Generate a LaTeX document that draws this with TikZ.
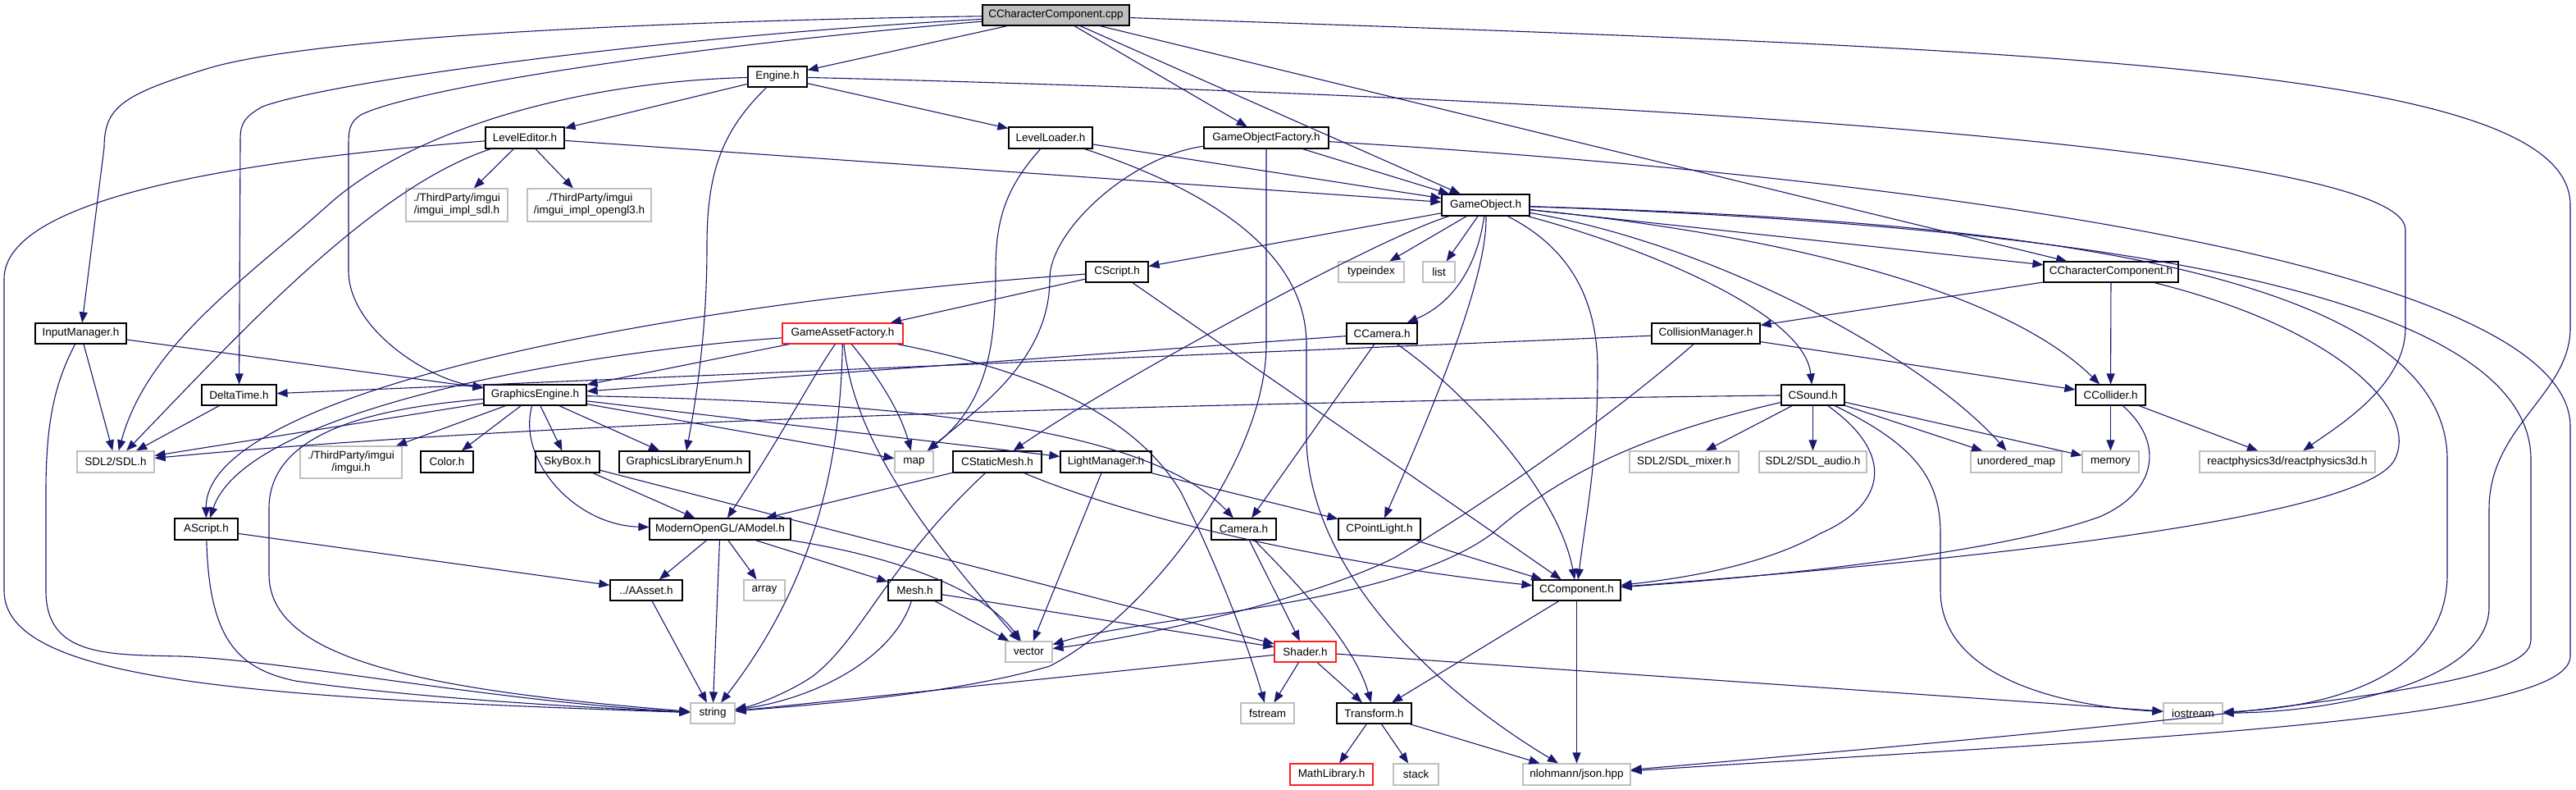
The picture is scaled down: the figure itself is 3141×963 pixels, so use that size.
\documentclass[tikz,border=0pt]{standalone}
\usepackage{fontspec}
\setmainfont{Liberation Sans}
\usetikzlibrary{arrows.meta}
\definecolor{edgec}{HTML}{191970}
\definecolor{extc}{HTML}{BFBFBF}
\definecolor{rootc}{HTML}{BFBFBF}
\definecolor{redc}{HTML}{FF2020}
\newcommand\nd[7]{\node[#6, minimum width=#4pt, minimum height=#5pt] (#1) at (#2,#3) {#7};}
\begin{document}
\begin{tikzpicture}[x=1pt,y=-1pt,
  base/.style={rectangle, inner sep=0pt, font=\fontsize{13.5}{15}\selectfont, text=black, line width=1.2pt, align=center},
  intbox/.style={base, draw=black, fill=white},
  extbox/.style={base, draw=extc, fill=white},
  redbox/.style={base, draw=redc, fill=white},
  rootbox/.style={base, draw=black, fill=rootc},
  e/.style={draw=edgec, line width=1.1pt, -{Triangle[length=13pt,width=10pt]}}]
\useasboundingbox (0,0) rectangle (3141,963);
\fill[white] (0,0) rectangle (3141,963);
% nodes
\nd{root}{1287.5}{18.5}{179}{25}{rootbox}{CCharacterComponent.cpp}
\nd{engine}{948}{93.5}{72}{25}{intbox}{Engine.h}
\nd{leveleditor}{640}{168}{96}{26}{intbox}{LevelEditor.h}
\nd{implsdl}{557}{250}{124}{40}{extbox}{./ThirdParty/imgui\\/imgui\_impl\_sdl.h}
\nd{implgl}{718.5}{250}{151}{40}{extbox}{./ThirdParty/imgui\\/imgui\_impl\_opengl3.h}
\nd{levelloader}{1281}{168}{102}{26}{intbox}{LevelLoader.h}
\nd{gof}{1544}{168}{152}{26}{intbox}{GameObjectFactory.h}
\nd{gameobject}{1811.5}{250}{107}{26}{intbox}{GameObject.h}
\nd{typeindex}{1672}{331.5}{80}{25}{extbox}{typeindex}
\nd{list}{1754.5}{331.5}{39}{25}{extbox}{list}
\nd{ccharh}{2574}{331.5}{164}{25}{intbox}{CCharacterComponent.h}
\nd{cscript}{1362}{331.5}{76}{25}{intbox}{CScript.h}
\nd{inputmgr}{98.5}{406.5}{111}{25}{intbox}{InputManager.h}
\nd{gaf}{1027.5}{406.5}{147}{25}{redbox}{GameAssetFactory.h}
\nd{ccamera}{1685}{406.5}{86}{25}{intbox}{CCamera.h}
\nd{collmgr}{2080}{406.5}{132}{25}{intbox}{CollisionManager.h}
\nd{deltatime}{291.5}{481.5}{91}{25}{intbox}{DeltaTime.h}
\nd{gfx}{652.5}{481.5}{125}{25}{intbox}{GraphicsEngine.h}
\nd{csound}{2210.5}{481.5}{77}{25}{intbox}{CSound.h}
\nd{ccollider}{2573.5}{481.5}{85}{25}{intbox}{CCollider.h}
\nd{sdl}{141}{563}{94}{26}{extbox}{SDL2/SDL.h}
\nd{imgui}{428}{563.5}{124}{39}{extbox}{./ThirdParty/imgui\\/imgui.h}
\nd{color}{545}{563}{64}{26}{intbox}{Color.h}
\nd{skybox}{692}{563}{78}{26}{intbox}{SkyBox.h}
\nd{gle}{834.5}{563}{159}{26}{intbox}{GraphicsLibraryEnum.h}
\nd{map}{1114.5}{563}{47}{26}{extbox}{map}
\nd{cstatic}{1216}{563}{108}{26}{intbox}{CStaticMesh.h}
\nd{lightmgr}{1348.5}{563}{111}{26}{intbox}{LightManager.h}
\nd{mixer}{2053.5}{563}{133}{26}{extbox}{SDL2/SDL\_mixer.h}
\nd{audio}{2210.5}{563}{131}{26}{extbox}{SDL2/SDL\_audio.h}
\nd{umap}{2458.5}{563}{111}{26}{extbox}{unordered\_map}
\nd{memory}{2573.5}{563}{69}{26}{extbox}{memory}
\nd{react}{2789}{563}{214}{26}{extbox}{reactphysics3d/reactphysics3d.h}
\nd{ascript}{251.5}{645}{77}{26}{intbox}{AScript.h}
\nd{amodel}{878}{645}{172}{26}{intbox}{ModernOpenGL/AModel.h}
\nd{camera}{1516.5}{645}{79}{26}{intbox}{Camera.h}
\nd{cpoint}{1682}{645}{100}{26}{intbox}{CPointLight.h}
\nd{aasset}{788}{719.5}{88}{25}{intbox}{../AAsset.h}
\nd{array}{932}{719.5}{50}{25}{extbox}{array}
\nd{mesh}{1115.5}{719.5}{65}{25}{intbox}{Mesh.h}
\nd{ccomp}{1922.5}{719.5}{107}{25}{intbox}{CComponent.h}
\nd{vector}{1254.5}{794.5}{57}{25}{extbox}{vector}
\nd{shader}{1591.5}{794.5}{75}{25}{redbox}{Shader.h}
\nd{string}{869}{869.5}{54}{25}{extbox}{string}
\nd{fstream}{1545.5}{869.5}{65}{25}{extbox}{fstream}
\nd{transform}{1675.5}{869.5}{91}{25}{intbox}{Transform.h}
\nd{iostream}{2674}{869.5}{72}{25}{extbox}{iostream}
\nd{mathlib}{1623.5}{944}{101}{26}{redbox}{MathLibrary.h}
\nd{stack}{1726.5}{944}{55}{26}{extbox}{stack}
\nd{json}{1922.5}{944}{131}{26}{extbox}{nlohmann/json.hpp}
% edges from root
\draw[e] (root) -- (engine);
\draw[e] (root) -- (gof);
\draw[e] (root) -- (gameobject);
\draw[e] (root) -- (ccharh);
\draw[e] (root) .. controls (900,24) and (400,40) .. (255,83) .. controls (150,115) and (127,130) .. (127,180) -- (inputmgr);
\draw[e] (root) .. controls (800,45) and (400,100) .. (320,130) .. controls (293,145) and (293,155) .. (293,175) -- (deltatime);
\draw[e] (root) .. controls (800,60) and (500,110) .. (440,140) .. controls (425,150) and (425,160) .. (425,180) -- (425,330) .. controls (425,400) and (520,462) .. (gfx);
\draw[e] (root) .. controls (2500,60) and (3134,80) .. (3134,250) -- (3134,400) .. controls (3134,480) and (3035,520) .. (3035,620) -- (3035,740) .. controls (3035,830) and (2850,868) .. (iostream);
% engine
\draw[e] (engine) -- (leveleditor);
\draw[e] (engine) .. controls (700,100) and (500,160) .. (400,250) .. controls (300,340) and (180,420) .. (sdl);
\draw[e] (engine) -- (levelloader);
\draw[e] (engine) .. controls (880,160) and (862,210) .. (862,300) .. controls (862,400) and (850,480) .. (gle);
\draw[e] (engine) .. controls (2000,120) and (2933,180) .. (2933,280) -- (2933,400) .. controls (2933,470) and (2850,520) .. (react);
% level editor
\draw[e] (leveleditor) -- (implsdl);
\draw[e] (leveleditor) -- (implgl);
\draw[e] (leveleditor) -- (gameobject);
\draw[e] (leveleditor) .. controls (450,230) and (280,420) .. (sdl);
\draw[e] (leveleditor) .. controls (300,195) and (5,240) .. (5,340) -- (5,720) .. controls (5,830) and (300,850) .. (string);
% level loader
\draw[e] (levelloader) -- (gameobject);
\draw[e] (levelloader) .. controls (1225,230) and (1214,270) .. (1214,330) .. controls (1214,420) and (1205,490) .. (map);
\draw[e] (levelloader) .. controls (1500,240) and (1593,320) .. (1593,420) -- (1593,540) .. controls (1600,700) and (1750,840) .. (json);
% game object factory
\draw[e] (gof) -- (gameobject);
\draw[e] (gof) .. controls (1380,190) and (1280,280) .. (1280,340) .. controls (1280,440) and (1190,500) .. (map);
\draw[e] (gof.south) -- (1544,420) .. controls (1544,560) and (1400,750) .. (1280,812) .. controls (1150,850) and (950,862) .. (string);
\draw[e] (gof) .. controls (2400,220) and (3134,330) .. (3134,520) -- (3134,800) .. controls (3134,880) and (2600,900) .. (json);
% game object
\draw[e] (gameobject) -- (cscript);
\draw[e] (gameobject) -- (typeindex);
\draw[e] (gameobject) -- (list);
\draw[e] (gameobject) .. controls (1680,290) and (1350,470) .. (cstatic);
\draw[e] (gameobject) .. controls (1802,320) and (1775,368) .. (ccamera);
\draw[e] (gameobject) .. controls (1814,330) and (1760,470) .. (cpoint);
\draw[e] (gameobject) .. controls (1910,300) and (1948,360) .. (1948,450) .. controls (1948,560) and (1935,620) .. (ccomp);
\draw[e] (gameobject) .. controls (2000,300) and (2200,380) .. (csound);
\draw[e] (gameobject) .. controls (2100,300) and (2350,440) .. (umap);
\draw[e] (gameobject) .. controls (2200,290) and (2450,360) .. (ccollider);
\draw[e] (gameobject) -- (ccharh);
\draw[e] (gameobject) .. controls (2300,265) and (2984,300) .. (2984,560) -- (2984,700) .. controls (2984,820) and (2850,862) .. (iostream);
\draw[e] (gameobject) .. controls (2400,270) and (3086,330) .. (3086,560) -- (3086,780) .. controls (3086,830) and (2900,860) .. (json);
% cscript
\draw[e] (cscript) -- (gaf);
\draw[e] (cscript) .. controls (800,370) and (250,480) .. (ascript);
\draw[e] (cscript) -- (ccomp);
% game asset factory
\draw[e] (gaf) .. controls (700,430) and (300,500) .. (ascript);
\draw[e] (gaf) -- (gfx);
\draw[e] (gaf) .. controls (990,460) and (960,520) .. (amodel);
\draw[e] (gaf) .. controls (1025,550) and (1000,700) .. (string);
\draw[e] (gaf) .. controls (1080,470) and (1100,510) .. (map);
\draw[e] (gaf) .. controls (1040,520) and (1100,620) .. (vector);
\draw[e] (gaf) .. controls (1250,450) and (1380,500) .. (1440,600) .. controls (1480,680) and (1520,780) .. (fstream);
% ccamera
\draw[e] (ccamera) -- (camera);
\draw[e] (ccamera) .. controls (1790,480) and (1900,600) .. (ccomp);
\draw[e] (ccamera) -- (gfx);
% collision manager
\draw[e] (collmgr) -- (deltatime);
\draw[e] (collmgr) -- (ccollider);
\draw[e] (collmgr) .. controls (1950,520) and (1800,620) .. (1700,680) .. controls (1600,730) and (1400,775) .. (vector);
% ccharacter component h
\draw[e] (ccharh) -- (collmgr);
\draw[e] (ccharh) -- (ccollider);
\draw[e] (ccharh) .. controls (2850,400) and (2950,500) .. (2920,560) .. controls (2880,640) and (2300,690) .. (ccomp);
% ccollider
\draw[e] (ccollider) -- (memory);
\draw[e] (ccollider) -- (react);
\draw[e] (ccollider) .. controls (2640,540) and (2630,600) .. (2560,630) .. controls (2450,670) and (2200,700) .. (ccomp);
% csound
\draw[e] (csound) .. controls (1500,490) and (700,510) .. (sdl);
\draw[e] (csound) -- (mixer);
\draw[e] (csound) -- (audio);
\draw[e] (csound) -- (umap);
\draw[e] (csound) -- (memory);
\draw[e] (csound) .. controls (2320,560) and (2290,620) .. (2220,650) .. controls (2150,690) and (2050,705) .. (ccomp);
\draw[e] (csound) .. controls (2330,540) and (2366,580) .. (2366,650) -- (2366,720) .. controls (2366,820) and (2500,860) .. (iostream);
\draw[e] (csound) .. controls (2000,530) and (1900,580) .. (1820,650) .. controls (1700,740) and (1400,750) .. (vector);
% light manager, point light
\draw[e] (lightmgr) -- (vector);
\draw[e] (lightmgr) -- (cpoint);
\draw[e] (cpoint) -- (ccomp);
% static mesh
\draw[e] (cstatic) -- (amodel);
\draw[e] (cstatic) .. controls (1080,690) and (1050,780) .. (990,825) .. controls (960,845) and (920,860) .. (string);
\draw[e] (cstatic) .. controls (1400,640) and (1650,690) .. (ccomp);
% camera, shader
\draw[e] (camera) -- (shader);
\draw[e] (camera) .. controls (1570,700) and (1650,780) .. (transform);
\draw[e] (shader) -- (transform);
\draw[e] (shader) -- (fstream);
\draw[e] (shader) -- (string);
\draw[e] (shader) -- (iostream);
% mesh
\draw[e] (mesh) -- (vector);
\draw[e] (mesh) .. controls (1090,800) and (1000,850) .. (string);
\draw[e] (mesh) -- (shader);
% model
\draw[e] (amodel) -- (aasset);
\draw[e] (amodel) -- (string);
\draw[e] (amodel) -- (array);
\draw[e] (amodel) -- (mesh);
\draw[e] (amodel) .. controls (1100,680) and (1200,720) .. (vector);
% asset, script
\draw[e] (aasset) -- (string);
\draw[e] (ascript) -- (aasset);
\draw[e] (ascript) .. controls (255,780) and (290,815) .. (360,830) .. controls (500,850) and (700,862) .. (string);
% graphics engine
\draw[e] (gfx) -- (sdl);
\draw[e] (gfx) -- (imgui);
\draw[e] (gfx) -- (color);
\draw[e] (gfx) -- (skybox);
\draw[e] (gfx) -- (gle);
\draw[e] (gfx) .. controls (420,500) and (328,540) .. (328,620) -- (328,700) .. controls (328,800) and (500,840) .. (string);
\draw[e] (gfx) .. controls (630,560) and (700,640) .. (amodel);
\draw[e] (gfx) -- (map);
\draw[e] (gfx) -- (lightmgr);
\draw[e] (gfx) .. controls (1100,490) and (1400,520) .. (camera);
% skybox
\draw[e] (skybox) -- (amodel);
\draw[e] (skybox) -- (shader);
% input manager, delta time
\draw[e] (inputmgr) -- (sdl);
\draw[e] (inputmgr) -- (gfx);
\draw[e] (inputmgr) .. controls (65,470) and (56,520) .. (56,600) -- (56,720) .. controls (56,800) and (130,798) .. (220,800) .. controls (350,805) and (600,855) .. (string);
\draw[e] (deltatime) -- (sdl);
% component, transform
\draw[e] (ccomp) -- (transform);
\draw[e] (ccomp) -- (json);
\draw[e] (transform) -- (mathlib);
\draw[e] (transform) -- (stack);
\draw[e] (transform) -- (json);
\end{tikzpicture}
\end{document}
